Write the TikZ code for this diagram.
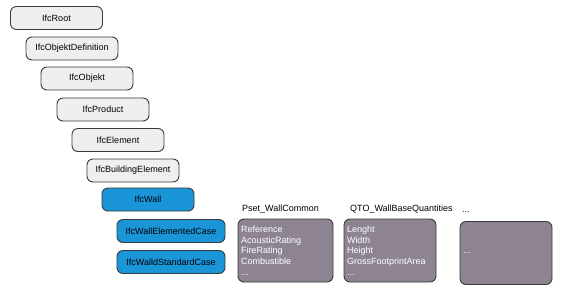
\documentclass[tikz,border=0pt]{standalone}
\usepackage{fontspec}
\setmainfont{Liberation Sans}
\definecolor{boxfill}{HTML}{EFEFEF}
\definecolor{boxline}{HTML}{3A3A3A}
\definecolor{wallblue}{HTML}{1A95D8}
\definecolor{psetfill}{HTML}{8E8491}
\begin{document}
\begin{tikzpicture}[x=1pt,y=-1pt,
  every node/.style={font=\fontsize{9}{10.7}\selectfont},
  cls/.style={draw=boxline, line width=0.9pt, rounded corners=6pt, fill=boxfill,
    minimum width=92pt, minimum height=23pt, inner sep=0pt},
  bluecls/.style={cls, fill=wallblue},
  propbox/.style={draw=boxline, line width=0.9pt, rounded corners=6pt, fill=psetfill,
    minimum height=63pt, inner xsep=3pt, inner ysep=0pt, text=white, align=left},
  title/.style={anchor=west, inner sep=0pt}
]
\useasboundingbox (0,0) rectangle (567,293);
\node[cls] (root) at (56.5,18) {IfcRoot};
\node[cls] (objdef) at (72,48.5) {IfcObjektDefinition};
\node[cls] (obj) at (87,78.5) {IfcObjekt};
\node[cls] (prod) at (103,109.5) {IfcProduct};
\node[cls] (elem) at (118,140) {IfcElement};
\node[cls] (belem) at (133,170.5) {IfcBuildingElement};
\node[bluecls] (wall) at (148,199.5) {IfcWall};
\node[bluecls, minimum width=108pt] (welem) at (171,231) {IfcWallElementedCase};
\node[bluecls, minimum width=108pt] (wstd) at (171,262) {IfcWalldStandardCase};

\node[title] (psett) at (242,209) {Pset\_WallCommon};
\node[title] (qtot) at (350,209) {QTO\_WallBaseQuantities};
\node[title] (moret) at (462,212) {...};

\node[propbox, text width=89pt] (pset) at (285.5,250.5)
  {Reference\\AcousticRating\\FireRating\\Combustible\\...};
\node[propbox, text width=86pt] (qto) at (390,250.5)
  {Lenght\\Width\\Height\\GrossFootprintArea\\...};
\node[propbox, text width=86pt] (more) at (506,253) {...};
\end{tikzpicture}
\end{document}
